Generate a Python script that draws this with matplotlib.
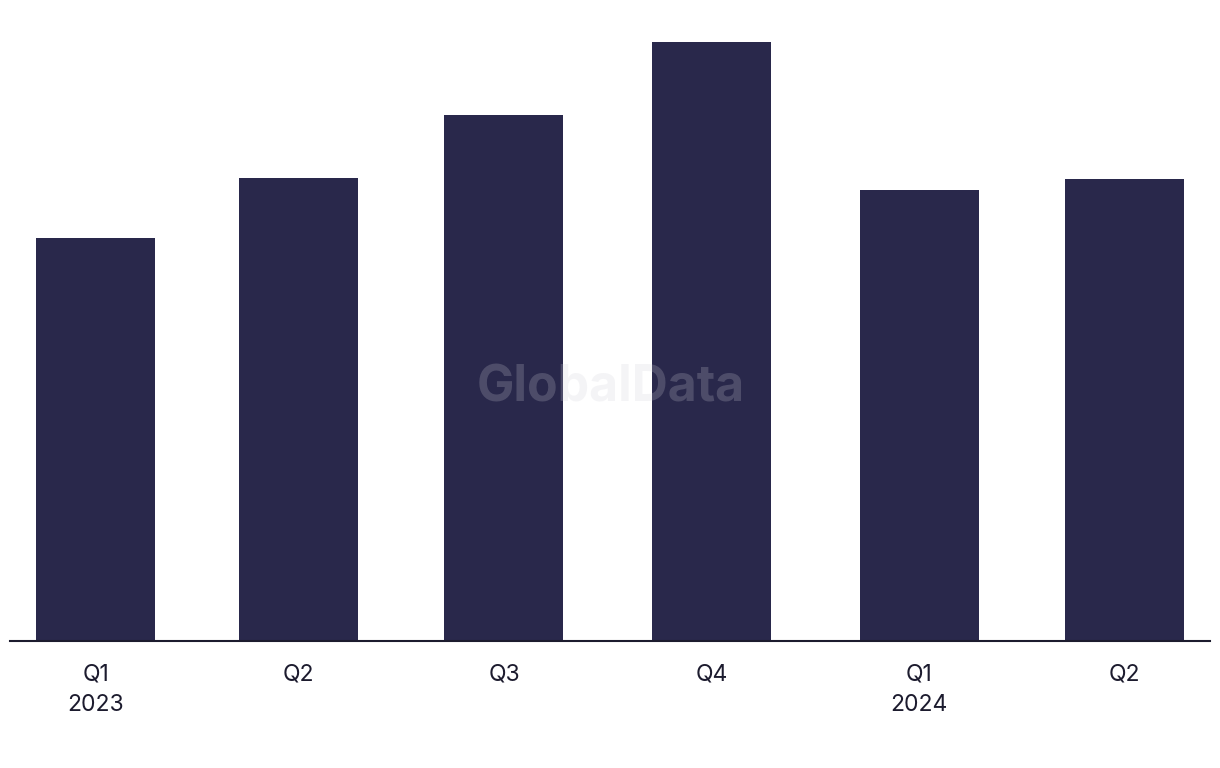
import matplotlib
matplotlib.use("Agg")
import matplotlib.pyplot as plt
import matplotlib.dates as mdates
from datetime import date

quarter_starts = [date(2023, 1, 1), date(2023, 4, 1), date(2023, 7, 1),
                  date(2023, 10, 1), date(2024, 1, 1), date(2024, 4, 1)]
quarters = ["Q1\n2023", "Q2", "Q3", "Q4", "Q1\n2024", "Q2"]
values = [403, 463, 526, 599, 451, 462]

bar_color = "#29284b"
text_color = "#1c1b2e"

plt.rcParams['font.family'] = ['Inter', 'DejaVu Sans']

fig = plt.figure(figsize=(12.2, 7.68), dpi=100)
ax = fig.add_axes([10 / 1220, 127 / 768, 1200 / 1220, 621 / 768])

xs = mdates.date2num(quarter_starts)
ax.bar(xs, values, width=52.7, color=bar_color, zorder=2)

ax.set_xlim(xs[0] - 37.9, xs[-1] + 37.9)
ax.set_ylim(0, 621)
ax.set_xticks(xs)
ax.set_xticklabels(quarters, fontsize=16.5, color=text_color, linespacing=1.5)
ax.tick_params(axis='x', length=0, pad=16)
ax.set_yticks([])

for side in ["top", "left", "right"]:
    ax.spines[side].set_visible(False)
ax.spines["bottom"].set_color(text_color)
ax.spines["bottom"].set_linewidth(1.5)

# watermark
fig.text(611 / 1220, 1 - 388 / 768, "GlobalData", fontsize=36, fontweight="bold",
         color="#cfcfd8", alpha=0.22, ha="center", va="center", zorder=5)

fig.savefig("out.png", dpi=100)
